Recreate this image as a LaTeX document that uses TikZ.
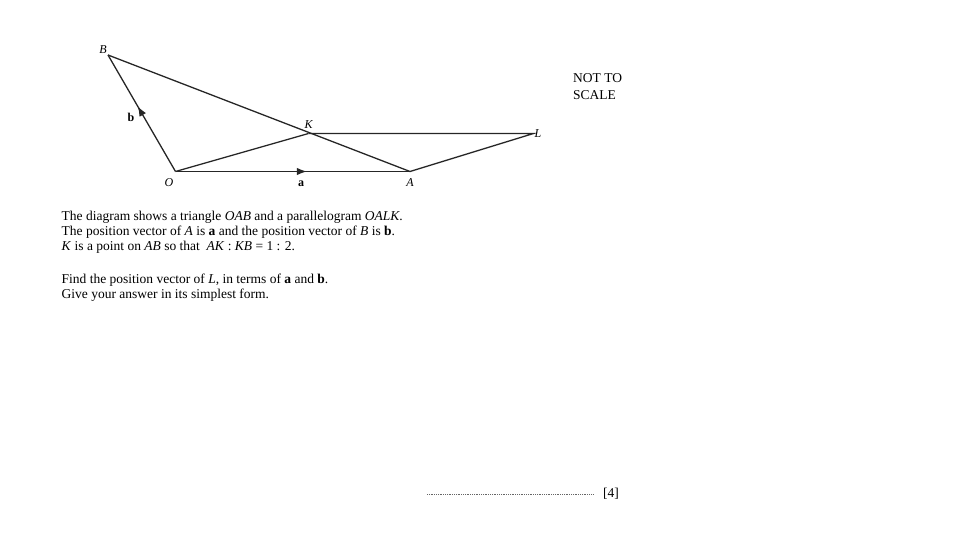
\documentclass[tikz,border=0pt]{standalone}
\usepackage{fontspec}
\setmainfont{Liberation Serif}
\usetikzlibrary{positioning}
\usetikzlibrary{arrows.meta,decorations.markings}
\tikzset{
	>={Latex[length=10pt,width=7.5pt]},
	edge/.style={draw=black!85, line width=1.3pt},
	midarrow/.style={
		postaction={decorate},
		decoration={markings, mark=at position 0.56 with {\arrow{>}}}},
	vlabel/.style={font=\fontsize{12}{14}\selectfont\itshape, inner sep=1pt},
	vecname/.style={font=\fontsize{12}{14}\selectfont\bfseries, inner sep=1pt},
	textline/.style={anchor=base west, inner sep=0pt, font=\fontsize{13.5}{15}\selectfont},
}

\begin{document}
\begin{tikzpicture}[x=1pt, y=-1pt]
	\useasboundingbox (0,0) rectangle (960,540);
	% points of the figure
	\coordinate (O) at (175.5,171.5);
	\coordinate (A) at (410,171.5);
	\coordinate (B) at (108,55);
	\coordinate (K) at (308.5,133.5);
	\coordinate (L) at (533.5,133.5);

	% triangle OAB and parallelogram OALK
	\draw[edge] (B) -- (A);
	\draw[edge] (K) -- (L) -- (A);
	\draw[edge] (O) -- (K);
	\draw[edge, midarrow] (O) -- (A);
	\draw[edge, midarrow] (O) -- (B);

	% labels
	\node[vlabel, above left=0pt and 0pt of B] (labB) {B};
	\node[vlabel, above=4pt of K] (labK) {K};
	\node[vlabel, right=0pt of L] (labL) {L};
	\node[vlabel, below left=6pt and 1pt of O] (labO) {O};
	\node[vlabel, below=6pt of A] (labA) {A};
	\node[vecname] (veca) at (301,184) {a};
	\node[vecname] (vecb) at (131,117) {b};

	\node[textline] (nts1) at (573,83) {NOT TO};
	\node[textline] (nts2) at (573,100) {SCALE};

	% question text
	\node[textline] (q1) at (61.5,220.5) {The diagram shows a triangle \textit{OAB} and a parallelogram \textit{OALK}.};
	\node[textline] (q2) at (61.5,235.5) {The position vector of \textit{A} is \textbf{a} and the position vector of \textit{B} is \textbf{b}.};
	\node[textline] (q3) at (61.5,250.5) {\textit{K} is a point on \textit{AB} so that \ \textit{AK} : \textit{KB} = 1 : 2.};
	\node[textline] (q4) at (61.5,283.5) {Find the position vector of \textit{L}, in terms of \textbf{a} and \textbf{b}.};
	\node[textline] (q5) at (61.5,298.5) {Give your answer in its simplest form.};

	% answer line
	\coordinate (dotsL) at (427,494);
	\coordinate (dotsR) at (593,494);
	\draw[black!60, line width=0.6pt, dash pattern=on 0.6pt off 1.2pt] (dotsL) -- (dotsR);
	\node[textline] (marks) at (603,497.5) {[4]};
\end{tikzpicture}
\end{document}
